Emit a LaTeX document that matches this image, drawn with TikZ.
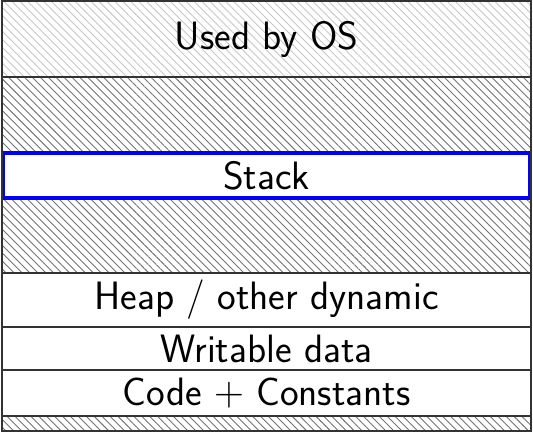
\documentclass[tikz,border=0pt]{standalone}
\usetikzlibrary{patterns.meta}
\begin{document}
\begin{tikzpicture}[x=0.5pt,y=-0.5pt,
  lbl/.style={font=\sffamily\fontsize{19.8}{24}\selectfont, inner sep=0pt},
  band/.style={draw=black!80, line width=0.6pt},
  darkhatch/.style={band, pattern={Lines[angle=-45, distance=2.8pt, line width=0.45pt]}, pattern color=black!55},
  lighthatch/.style={band, pattern={Lines[angle=-45, distance=2.8pt, line width=0.45pt]}, pattern color=black!22},
  stackband/.style={draw=blue, line width=1.6pt, fill=white}]
\useasboundingbox (0,0) rectangle (533,433);
% bands
\path[lighthatch] (2,1) rectangle (531,77);
\path[darkhatch] (2,77) rectangle (531,153);
\path[darkhatch] (2,198) rectangle (531,273);
\path[band] (2,273) rectangle (531,327);
\path[band] (2,327) rectangle (531,370);
\path[band] (2,370) rectangle (531,416);
\path[darkhatch] (2,416) rectangle (531,431);
\path[stackband] (3,153) rectangle (530,198);
\draw[black!80, line width=0.6pt] (2,1) rectangle (531,431);
% labels
\node[lbl] (os) at (266.5,39) {Used by OS};
\node[lbl] (stack) at (266.5,175.5) {Stack};
\node[lbl] (heap) at (266.5,300) {Heap / other dynamic};
\node[lbl] (data) at (266.5,348.5) {Writable data};
\node[lbl] (code) at (266.5,393) {Code $+$ Constants};
\end{tikzpicture}
\end{document}
